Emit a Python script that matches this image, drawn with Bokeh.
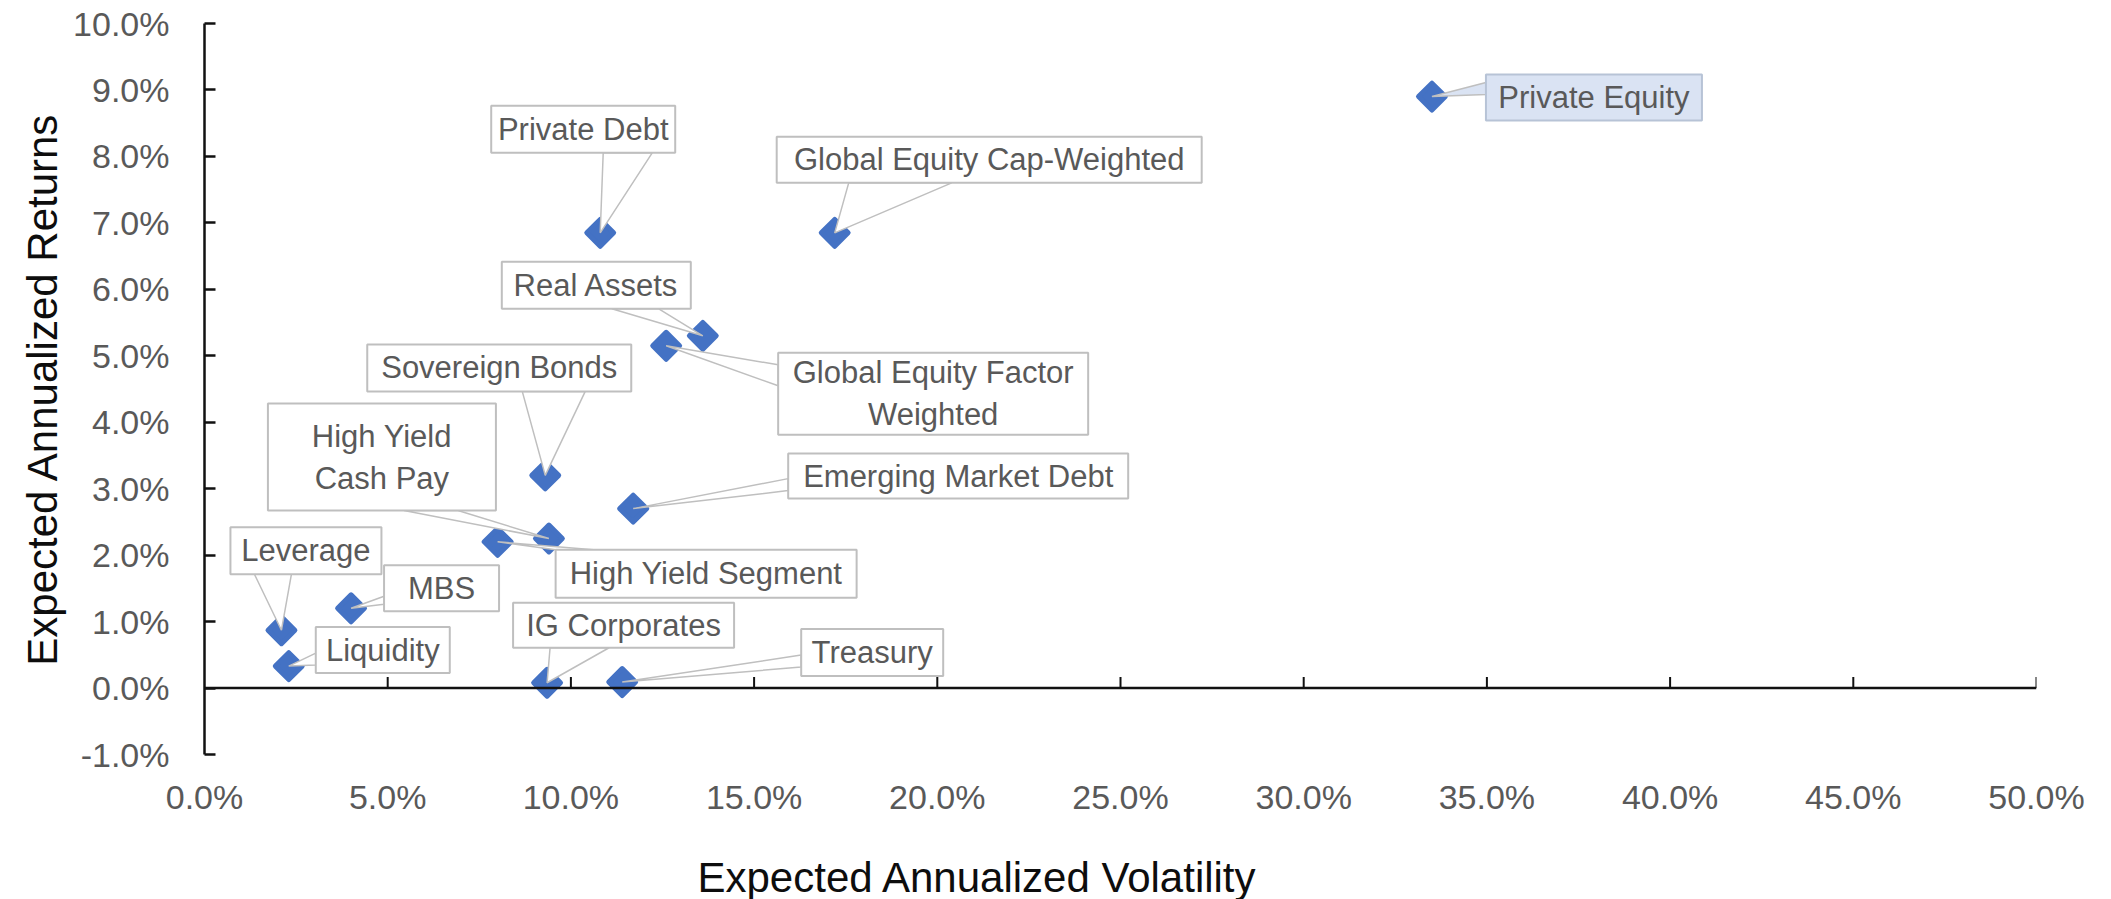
import math
from bokeh.plotting import figure
from bokeh.models import FixedTicker, NumeralTickFormatter, Span, Title, Range1d
from bokeh.embed import file_html
from bokeh.resources import INLINE
from bokeh.core.properties import value

# ---------------- data ----------------
names = ["Private Equity", "Private Debt", "Global Equity Cap-Weighted", "Real Assets",
         "Global Equity Factor\nWeighted", "Sovereign Bonds", "Emerging Market Debt",
         "High Yield\nCash Pay", "High Yield Segment", "Leverage", "MBS", "Liquidity",
         "IG Corporates", "Treasury"]
volatility = [33.5, 10.8, 17.2, 13.6, 12.6, 9.3, 11.7, 9.4, 8.0, 2.1, 4.0, 2.3, 9.35, 11.4]
returns = [8.9, 6.85, 6.85, 5.3, 5.15, 3.2, 2.7, 2.25, 2.2, 0.87, 1.2, 0.33, 0.08, 0.09]
x_ticks = [0, 5, 10, 15, 20, 25, 30, 35, 40, 45, 50]
y_ticks = [-1, 0, 1, 2, 3, 4, 5, 6, 7, 8, 9, 10]
x_title = "Expected Annualized Volatility"
y_title = "Expected Annualized Returns"

# ---------------- layout of callouts (screen px relative to the point, y downwards) ----------------
box_offsets = [  # left, top, right, bottom
    (54, -22, 270, 24), (-109, -127, 75, -80), (-58, -96, 367, -50), (-201, -74, -12, -27),
    (112, 7, 422, 89), (-178, -131, 86, -84), (155, -55, 495, -10), (-281, -135, -53, -28),
    (58, 8, 359, 56), (-51, -103, 100, -56), (33, -43, 148, 3), (27, -39, 161, 7),
    (-34, -80, 187, -35), (179, -53, 321, -6)]
tail_offsets = [  # base point a (x,y), base point b (x,y)
    (54, -14, 54, -2), (3, -80, 52, -80), (14, -50, 117, -50), (-91, -27, -44, -27),
    (112, 19, 112, 40), (-23, -84, 40, -84), (155, -30, 155, -18), (-145, -28, -91, -28),
    (58, 8, 96, 8), (-27, -56, 10, -56), (33, -12, 33, -4), (27, -13, 27, -1),
    (3, -35, 62, -35), (179, -27, 179, -15)]
box_fill = ["#dae3f3"] + ["white"] * 13
box_line = ["#b7c3d6"] + ["#bfbfbf"] * 13

FRAME_W, FRAME_H = 1832, 731
LEFT, TOP = 204, 23
X0, X1 = 0.0, 0.5
Y0, Y1 = -0.01, 0.10
SX = FRAME_W / (X1 - X0)
SY = FRAME_H / (Y1 - Y0)

FONT = "Liberation Sans"

p = figure(frame_width=FRAME_W, frame_height=FRAME_H,
           x_range=Range1d(X0, X1), y_range=Range1d(Y0, Y1),
           output_backend="svg", toolbar_location=None,
           min_border_left=LEFT, min_border_right=2111 - LEFT - FRAME_W,
           min_border_top=TOP, min_border_bottom=899 - TOP - FRAME_H,
           outline_line_color=None, background_fill_color="white", border_fill_color="white")
p.xgrid.visible = False
p.ygrid.visible = False

# y axis
ya = p.yaxis[0]
ya.ticker = FixedTicker(ticks=[t / 100 for t in y_ticks])
ya.formatter = NumeralTickFormatter(format="0.0%")
ya.major_tick_in = 11
ya.major_tick_out = 0
ya.minor_tick_line_color = None
ya.axis_line_width = 2.5
ya.axis_line_color = "#111111"
ya.major_tick_line_width = 2.5
ya.major_tick_line_color = "#111111"
ya.major_label_text_font = FONT
ya.major_label_text_font_size = "34px"
ya.major_label_text_color = "#595959"
ya.major_label_standoff = 35
ya.axis_label = y_title
ya.axis_label_text_font = FONT
ya.axis_label_text_font_size = "42px"
ya.axis_label_text_font_style = "normal"
ya.axis_label_text_color = "#0d0d0d"
ya.axis_label_standoff = 4

# x axis (labels only, line drawn at y = 0)
xa = p.xaxis[0]
xa.ticker = FixedTicker(ticks=[t / 100 for t in x_ticks])
xa.formatter = NumeralTickFormatter(format="0.0%")
xa.axis_line_color = None
xa.major_tick_line_color = None
xa.minor_tick_line_color = None
xa.major_tick_in = 0
xa.major_tick_out = 0
xa.major_label_text_font = FONT
xa.major_label_text_font_size = "34px"
xa.major_label_text_color = "#595959"
xa.major_label_standoff = 23

p.add_layout(Span(location=0, dimension="width", line_color="#111111", line_width=2.5))
p.ray(x=[t / 100 for t in x_ticks[1:]], y=[0] * (len(x_ticks) - 1), length=11,
      length_units="screen", angle=math.pi / 2, line_color="#111111", line_width=2)

# x title: small spacer panel, then the title (left aligned, offset from the frame's left edge)
p.add_layout(Title(text=" ", text_font_size="1px", standoff=30), "below")
p.add_layout(Title(text=x_title, align="left", offset=697 - LEFT, standoff=0,
                   text_font=FONT, text_font_size="42px", text_font_style="normal",
                   text_color="#0d0d0d"), "below")

# ---------------- marks ----------------
xs = [v / 100 for v in volatility]
ys = [r / 100 for r in returns]

p.scatter(xs, ys, marker="square", angle=math.pi / 4, size=19,
          fill_color="#4472c4", line_color="#4472c4", line_width=5, line_join="round")

tx, ty = [], []
for x, y, (ax, ay, bx, by) in zip(xs, ys, tail_offsets):
    tx.append([x, x + ax / SX, x + bx / SX])
    ty.append([y, y - ay / SY, y - by / SY])
p.patches(tx, ty, fill_color=box_fill, line_color="#bfbfbf", line_width=1.5)

left = [x + b[0] / SX for x, b in zip(xs, box_offsets)]
right = [x + b[2] / SX for x, b in zip(xs, box_offsets)]
top = [y - b[1] / SY for y, b in zip(ys, box_offsets)]
bottom = [y - b[3] / SY for y, b in zip(ys, box_offsets)]
p.quad(left=left, right=right, top=top, bottom=bottom,
       fill_color=box_fill, line_color=box_line, line_width=2)

p.text(x=[(l + r) / 2 for l, r in zip(left, right)], y=[(t + b) / 2 for t, b in zip(top, bottom)],
       text=names, text_align="center", text_baseline="middle",
       text_font=value(FONT), text_font_size="31px", text_color="#595959", text_line_height=1.2)

open("out.html", "w").write(file_html(p, INLINE))
